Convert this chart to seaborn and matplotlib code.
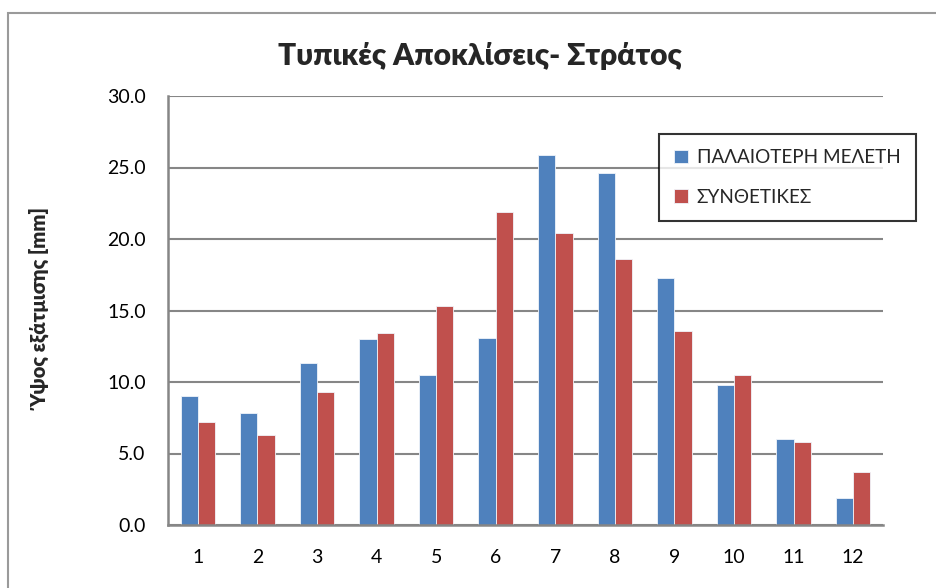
import matplotlib
matplotlib.use("Agg")
import matplotlib.pyplot as plt
import seaborn as sns
import pandas as pd
from matplotlib.patches import Rectangle

months = [str(m) for m in range(1, 13)]
older_study = [9.0, 7.8, 11.3, 13.0, 10.5, 13.1, 25.9, 24.6, 17.3, 9.8, 6.0, 1.9]
synthetic = [7.2, 6.3, 9.3, 13.4, 15.3, 21.9, 20.4, 18.6, 13.6, 10.5, 5.8, 3.7]
series_names = ["ΠΑΛΑΙΟΤΕΡΗ ΜΕΛΕΤΗ", "ΣΥΝΘΕΤΙΚΕΣ"]
y_ticks = [0, 5, 10, 15, 20, 25, 30]

df = pd.DataFrame({
    "month": months * 2,
    "value": older_study + synthetic,
    "series": [series_names[0]] * 12 + [series_names[1]] * 12,
})

sns.set_theme(style="white")
plt.rcParams["font.family"] = ["Lato", "DejaVu Sans"]

fig = plt.figure(figsize=(9.37, 5.88), dpi=100)
ax = fig.add_axes([168 / 937, 1 - 525 / 588, (883 - 168) / 937, (525 - 96) / 588])

palette = {series_names[0]: "#4F81BD", series_names[1]: "#C0504D"}
sns.barplot(data=df, x="month", y="value", hue="series", order=months,
            hue_order=series_names, palette=palette, width=0.58,
            saturation=1, linewidth=0.6, edgecolor="#F0F4FA", ax=ax)

ax.set_ylim(0, 30)
ax.set_yticks(y_ticks)
ax.set_yticklabels([f"{t:.1f}" for t in y_ticks])
ax.set_xlim(-0.5, 11.5)
ax.yaxis.grid(True, color="#868686", linewidth=1.5)
ax.set_axisbelow(True)
for side in ["top", "right"]:
    ax.spines[side].set_visible(False)
for side in ["left", "bottom"]:
    ax.spines[side].set_color("#868686")
    ax.spines[side].set_linewidth(1.8)
ax.tick_params(axis="y", length=0, pad=16, labelsize=14, labelcolor="black")
ax.tick_params(axis="x", length=0, pad=17, labelsize=14, labelcolor="black")
ax.set_xlabel("")
ax.set_ylabel("Ύψος εξάτμισης [mm]", fontsize=14.5, fontweight="heavy")
ax.yaxis.set_label_coords((53 - 168) / 715, 0.5)

fig.text(480 / 937, 1 - 56 / 588, "Τυπικές Αποκλίσεις- Στράτος",
         ha="center", va="center", fontsize=21.5, fontweight="heavy")

leg = ax.legend(loc="upper left", bbox_to_anchor=((659 - 168) / 715, 1 - (134 - 96) / 429),
                frameon=True, fancybox=False, edgecolor="black", fontsize=13.6,
                handlelength=0.75, handleheight=0.75, labelspacing=1.2,
                borderpad=0.8, handletextpad=0.45, borderaxespad=0)
leg.get_frame().set_linewidth(1.5)

# chart frame
fig.patches.append(Rectangle((8 / 937, -0.1), 1.2, 1 - 13 / 588 + 0.1,
                             transform=fig.transFigure, fill=False,
                             edgecolor="#9A9A9A", linewidth=1.5))

fig.savefig("out.png", dpi=100)
